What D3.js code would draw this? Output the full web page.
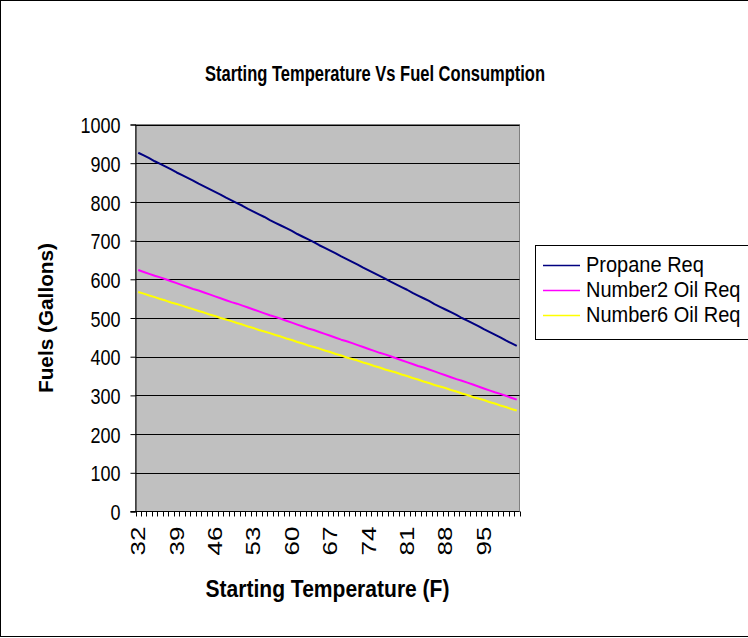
<!DOCTYPE html>
<html><head><meta charset="utf-8">
<script src="https://cdn.jsdelivr.net/npm/d3@7"></script>
<style>body{margin:0;background:#fff}svg{display:block}text{font-family:"Liberation Sans",Arial,sans-serif}</style>
</head><body><svg id="c" width="748" height="638"></svg>
<script>
const temperatures = d3.range(32, 102);
const propaneReq = [927,920,913,905,898,891,884,876,869,862,855,847,840,833,826,819,811,804,797,790,782,775,768,761,753,746,739,732,725,717,710,703,696,688,681,674,667,659,652,645,638,630,623,616,609,602,594,587,580,573,565,558,551,544,536,529,522,515,508,500,493,486,479,471,464,457,450,442,435,428];
const number2OilReq = [624,619,614,609,605,600,595,590,585,580,575,571,566,561,556,551,546,541,537,532,527,522,517,512,507,503,498,493,488,483,478,473,469,464,459,454,449,444,440,435,430,425,420,415,410,406,401,396,391,386,381,376,372,367,362,357,352,347,342,338,333,328,323,318,313,308,304,299,294,289];
const number6OilReq = [567,563,558,554,549,545,540,536,532,527,523,518,514,509,505,500,496,492,487,483,478,474,469,465,461,456,452,447,443,438,434,429,425,421,416,412,407,403,398,394,390,385,381,376,372,367,363,359,354,350,345,341,336,332,327,323,319,314,310,305,301,296,292,288,283,279,274,270,265,261];
const yTicks = [0,100,200,300,400,500,600,700,800,900,1000];
const xLabelTemps = [32,39,46,53,60,67,74,81,88,95];
const seriesNames = ["Propane Req","Number2 Oil Req","Number6 Oil Req"];
const seriesColors = ["#000080","#FF00FF","#FFFF00"];
const seriesValues = [propaneReq, number2OilReq, number6OilReq];

const svg = d3.select("#c");
const L = 135.5, R = 519.5, T = 124.5, B = 511.5;
const SY = 1.25; // vertical stretch of glyphs seen in the reference

svg.append("rect").attr("x",0.5).attr("y",0.5).attr("width",760).attr("height",636)
  .attr("fill","#fff").attr("stroke","#000");

const x = d3.scaleBand().domain(temperatures).range([L, R]).padding(0);
const y = d3.scaleLinear().domain([0, 1000]).range([B, T]);

svg.append("rect").attr("x",L).attr("y",T).attr("width",R-L).attr("height",B-T)
  .attr("fill","#C0C0C0").attr("stroke","#808080");

// gridlines
svg.append("g").selectAll("line").data(yTicks.filter(d=>d>0)).join("line")
  .attr("x1",L).attr("x2",R).attr("y1",d=>Math.round(y(d))+0.5).attr("y2",d=>Math.round(y(d))+0.5)
  .attr("stroke","#000").attr("stroke-width",1);

// y axis
const yAxis = d3.axisLeft(y).tickValues(yTicks).tickFormat(d3.format("d")).tickSize(5).tickPadding(10);
const gy = svg.append("g").attr("transform",`translate(${L},0)`).call(yAxis);
gy.select(".domain").attr("stroke","#000");
gy.selectAll(".tick line").attr("stroke","#000");
gy.selectAll("text").attr("font-size",18).attr("fill","#000")
  .attr("font-family","Liberation Sans, Arial, sans-serif")
  .attr("x",0).attr("dy",null).attr("y",6.5)
  .attr("transform",`translate(-15,0) scale(1,${SY})`);

// x axis line and ticks at category boundaries
svg.append("line").attr("x1",L-5).attr("x2",R).attr("y1",B).attr("y2",B).attr("stroke","#000");
const boundaries = temperatures.map(t => x(t)).concat([x(temperatures[temperatures.length-1]) + x.bandwidth()]);
svg.append("g").selectAll("line").data(boundaries).join("line")
  .attr("x1",d=>Math.round(d)+0.5).attr("x2",d=>Math.round(d)+0.5).attr("y1",B).attr("y2",B+5)
  .attr("stroke","#000");

const xAxis = d3.axisBottom(x).tickValues(xLabelTemps).tickSize(0).tickPadding(0);
const gx = svg.append("g").attr("transform",`translate(0,${B})`).call(xAxis);
gx.select(".domain").remove();
gx.selectAll("text").attr("font-size",20).attr("fill","#000")
  .attr("font-family","Liberation Sans, Arial, sans-serif")
  .attr("text-anchor","end").attr("x",0).attr("y",7).attr("dy",null)
  .attr("transform",`translate(0,15) rotate(-90) scale(1.3,1)`);

// lines
const line = d3.line().x((d,i)=>x(temperatures[i]) + x.bandwidth()/2).y(d=>y(d));
seriesValues.forEach((vals, k) => {
  svg.append("path").datum(vals).attr("d", line).attr("fill","none")
    .attr("stroke", seriesColors[k]).attr("stroke-width",2).attr("stroke-linejoin","round");
});

// titles
svg.append("text").attr("transform",`translate(375,81) scale(1,${SY})`).attr("text-anchor","middle")
  .attr("font-size",17).attr("font-weight","bold")
  .attr("textLength",340).attr("lengthAdjust","spacingAndGlyphs")
  .text("Starting Temperature Vs Fuel Consumption");
svg.append("text").attr("transform",`translate(${(L+R)/2},597) scale(1,1.15)`).attr("text-anchor","middle")
  .attr("font-size",21).attr("font-weight","bold")
  .attr("textLength",244).attr("lengthAdjust","spacingAndGlyphs")
  .text("Starting Temperature (F)");
svg.append("text").attr("transform",`translate(53,${(T+B)/2}) rotate(-90)`).attr("text-anchor","middle")
  .attr("font-size",20).attr("font-weight","bold")
  .attr("textLength",150).attr("lengthAdjust","spacingAndGlyphs")
  .text("Fuels (Gallons)");

// legend
svg.append("rect").attr("x",535.5).attr("y",245.5).attr("width",260).attr("height",94)
  .attr("fill","#fff").attr("stroke","#000");
const lg = svg.append("g").selectAll("g").data(seriesNames).join("g")
  .attr("transform",(d,i)=>`translate(0,${265 + i*25})`);
lg.append("line").attr("x1",543).attr("x2",580).attr("y1",0.5).attr("y2",0.5)
  .attr("stroke",(d,i)=>seriesColors[i]).attr("stroke-width",1.5);
lg.append("text").attr("transform","translate(586,7) scale(1,1.1)").attr("font-size",20).text(d=>d);
</script></body></html>
